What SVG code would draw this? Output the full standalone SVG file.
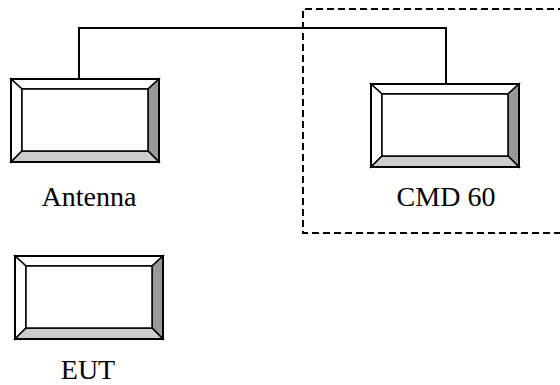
<svg xmlns="http://www.w3.org/2000/svg" xmlns:xlink="http://www.w3.org/1999/xlink" width="560" height="385" viewBox="0 0 560 385">
  <style>
    .lbl { font-family: "Liberation Serif", "Times New Roman", serif; font-size: 28px; fill: #000; text-anchor: middle; }
    .edge { fill: none; stroke: #000; stroke-width: 2; }
    .dash { fill: none; stroke: #000; stroke-width: 2; stroke-dasharray: 7 4; }
    .bv { stroke: #000; stroke-width: 1.5; stroke-linejoin: miter; }
  </style>
  <defs>
    <g id="bevelbox">
      <polygon class="bv" fill="#ffffff" points="0,0 148,0 137,10 11,10"/>
      <polygon class="bv" fill="#ffffff" points="0,0 11,10 11,72 0,83"/>
      <polygon class="bv" fill="#999999" points="148,0 148,83 137,72 137,10"/>
      <polygon class="bv" fill="#cccccc" points="0,83 11,72 137,72 148,83"/>
      <rect class="bv" x="11" y="10" width="126" height="62" fill="#ffffff"/>
      <rect x="0" y="0" width="148" height="83" fill="none" stroke="#000" stroke-width="2"/>
    </g>
  </defs>
  <rect width="560" height="385" fill="#ffffff"/>
  <g id="connectors">
    <polyline class="edge" points="79,79 79,28 446,28 446,84"/>
    <polyline class="dash" points="565,9 303,9 303,233 565,233"/>
  </g>
  <g id="antenna">
    <use xlink:href="#bevelbox" href="#bevelbox" transform="translate(11,79)"/>
    <text class="lbl" x="89" y="206">Antenna</text>
  </g>
  <g id="cmd60">
    <use xlink:href="#bevelbox" href="#bevelbox" transform="translate(371,84)"/>
    <text class="lbl" x="446" y="206">CMD 60</text>
  </g>
  <g id="eut">
    <use xlink:href="#bevelbox" href="#bevelbox" transform="translate(15,256)"/>
    <text class="lbl" x="88" y="379">EUT</text>
  </g>
</svg>
